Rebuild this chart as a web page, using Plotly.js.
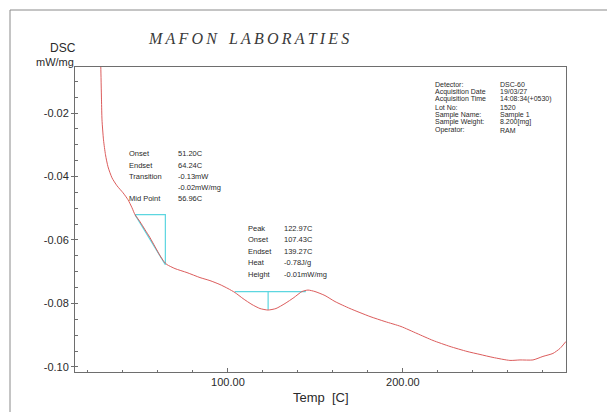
<!DOCTYPE html>
<html>
<head>
<meta charset="utf-8">
<script src="https://cdn.plot.ly/plotly-3.0.1.min.js"></script>
<style>
  html, body { margin: 0; padding: 0; background: #fff; }
  #chart { width: 607px; height: 412px; }
</style>
</head>
<body>
<div id="chart"></div>
<script>
// DSC thermogram: temperature (C) against heat flow (mW/mg)
const temperature = [
  27.17, 27.34, 27.74, 28.03, 28.89, 30.03, 31.46, 33.74, 36.60, 40.03,
  42.89, 45.17, 46.89, 49.74, 52.60, 55.46, 58.31, 61.17, 63.46, 65.17,
  69.74, 76.60, 84.03, 89.74, 95.46, 100.03, 104.03, 108.60, 113.74, 118.31,
  122.89, 127.46, 132.60, 137.74, 142.31, 145.74, 149.74, 155.46, 161.17, 169.74,
  181.17, 189.74, 198.89, 208.03, 217.17, 226.89, 236.60, 244.03, 251.46, 261.17,
  266.89, 274.31, 280.03, 285.74, 289.74, 293.17
];
const dscSignal = [
  -0.0033, -0.0055, -0.01588, -0.02217, -0.02846, -0.03317, -0.03695, -0.04041, -0.04292, -0.04512,
  -0.04732, -0.04984, -0.05204, -0.05424, -0.05676, -0.05927, -0.06210, -0.06493, -0.06682, -0.06776,
  -0.06902, -0.07028, -0.07185, -0.07280, -0.07405, -0.07531, -0.07657, -0.07846, -0.08034, -0.08160,
  -0.08207, -0.08160, -0.08003, -0.07814, -0.07625, -0.07578, -0.07625, -0.07751, -0.07940, -0.08160,
  -0.08412, -0.08570, -0.08726, -0.08946, -0.09166, -0.09355, -0.09512, -0.09607, -0.09701, -0.09795,
  -0.09780, -0.09780, -0.09669, -0.09575, -0.09418, -0.09198
];

// Axis tick positions and their printed labels
const xTickVals = [100, 200];
const xTickText = ['100.00', '200.00'];
const yTickVals = [-0.02, -0.04, -0.06, -0.08, -0.10];
const yTickText = ['-0.02', '-0.04', '-0.06', '-0.08', '-0.10'];

// Glass transition step construction (tangent triangle)
const glassStepX = [46.9, 64.24, 64.24, 46.9];
const glassStepY = [-0.0520, -0.0520, -0.0678, -0.0520];

// Endothermic peak baseline and peak height marker
const peakBaseX = [103.9, 144.5];
const peakBaseY = [-0.0763, -0.0763];
const peakDropX = [122.97, 122.97];
const peakDropY = [-0.0763, -0.0820];

// Text blocks
const infoLabels = ['Detector:', 'Acquisition Date', 'Acquisition Time', 'Lot No:', 'Sample Name:', 'Sample Weight:', 'Operator:'];
const infoValues = ['DSC-60', '19/03/27', '14:08:34(+0530)', '1520', 'Sample 1', '8.200[mg]', 'RAM'];
const glassLabels = ['Onset', 'Endset', 'Transition', '', 'Mid Point'];
const glassValues = ['51.20C', '64.24C', '-0.13mW', '-0.02mW/mg', '56.96C'];
const peakLabels = ['Peak', 'Onset', 'Endset', 'Heat', 'Height'];
const peakValues = ['122.97C', '107.43C', '139.27C', '-0.78J/g', '-0.01mW/mg'];
const labName = 'MAFON LABORATIES';

const W = 607, H = 412;
const M = { l: 75, r: 41, t: 67, b: 40 };
const plotW = W - M.l - M.r, plotH = H - M.t - M.b;
const px = x => (x - M.l) / plotW;          // pixel column -> paper x
const py = y => (H - M.b - y) / plotH;      // pixel row -> paper y

const sans = 'Liberation Sans, Arial, sans-serif';
const textColor = '#2a2a2a';

function textAt(x, y, text, size, extra) {
  return Object.assign({
    xref: 'paper', yref: 'paper', x: px(x), y: py(y),
    xanchor: 'left', yanchor: 'middle', showarrow: false, text: text,
    font: { family: sans, size: size, color: textColor }
  }, extra || {});
}

const annotations = [];
infoLabels.forEach((t, i) => {
  const y = 84 + i * 7.7;
  annotations.push(textAt(433, y, t, 7));
  annotations.push(textAt(498, y, infoValues[i], 7));
});
const glassRows = [153, 165, 176, 187, 198];
glassLabels.forEach((t, i) => {
  if (t) annotations.push(textAt(127, glassRows[i], t, 7.5));
  annotations.push(textAt(176, glassRows[i], glassValues[i], 7.5));
});
peakLabels.forEach((t, i) => {
  const y = 228 + i * 11.5;
  annotations.push(textAt(246, y, t, 7.5));
  annotations.push(textAt(282, y, peakValues[i], 7.5));
});

// Letter-spaced laboratory name
const spacedName = labName.split(' ')
  .map(w => w.split('').join('\u2009'))
  .join('\u00a0\u00a0\u00a0');
annotations.push(textAt(248, 38, spacedName, 16, {
  xanchor: 'center',
  font: { family: 'Liberation Serif, DejaVu Serif, serif', size: 16, style: 'italic', color: '#3a3a3a' }
}));
annotations.push(textAt(78, 48, 'DSC', 12, { xanchor: 'right' }));
annotations.push(textAt(76, 62, 'mW/mg', 11, { xanchor: 'right' }));
annotations.push(textAt(320.5, 397, 'Temp\u00a0\u00a0[C]', 13, { xanchor: 'center' }));

const cyan = '#5cd6e0';
const traces = [
  { x: glassStepX, y: glassStepY, type: 'scatter', mode: 'lines', line: { color: cyan, width: 1.2 } },
  { x: peakBaseX, y: peakBaseY, type: 'scatter', mode: 'lines', line: { color: cyan, width: 1.2 } },
  { x: peakDropX, y: peakDropY, type: 'scatter', mode: 'lines', line: { color: cyan, width: 1.2 } },
  {
    x: temperature, y: dscSignal, type: 'scatter', mode: 'lines',
    line: { color: '#dc5c5c', width: 1, shape: 'spline', smoothing: 0.6 }
  }
];

const axisLine = '#6e6e6e';
const layout = {
  width: W, height: H,
  margin: M,
  paper_bgcolor: '#ffffff', plot_bgcolor: '#ffffff',
  showlegend: false,
  xaxis: {
    range: [12.6, 293.2], showgrid: false, zeroline: false,
    showline: true, mirror: true, linecolor: axisLine, linewidth: 1,
    tickmode: 'array', tickvals: xTickVals, ticktext: xTickText,
    ticks: 'inside', ticklen: 4, tickcolor: axisLine,
    minor: { tickmode: 'linear', tick0: 0, dtick: 20, ticks: 'inside', ticklen: 2, tickcolor: axisLine },
    tickfont: { family: sans, size: 11, color: textColor }
  },
  yaxis: {
    range: [-0.1016, -0.0055], showgrid: false, zeroline: false,
    showline: true, mirror: true, linecolor: axisLine, linewidth: 1,
    tickmode: 'array', tickvals: yTickVals, ticktext: yTickText,
    ticks: 'outside', ticklen: 3, tickcolor: axisLine,
    minor: { tickmode: 'linear', tick0: 0, dtick: 0.005, ticks: 'inside', ticklen: 3, tickcolor: axisLine },
    tickfont: { family: sans, size: 11, color: textColor }
  },
  annotations: annotations,
  shapes: [
    { type: 'line', xref: 'paper', yref: 'paper', x0: px(10), y0: py(10), x1: px(640), y1: py(10),
      line: { color: '#8a8a8a', width: 1 } },
    { type: 'line', xref: 'paper', yref: 'paper', x0: px(10), y0: py(10), x1: px(10), y1: py(440),
      line: { color: '#8a8a8a', width: 1 } }
  ]
};

Plotly.newPlot('chart', traces, layout, { displayModeBar: false, staticPlot: true });
</script>
</body>
</html>
